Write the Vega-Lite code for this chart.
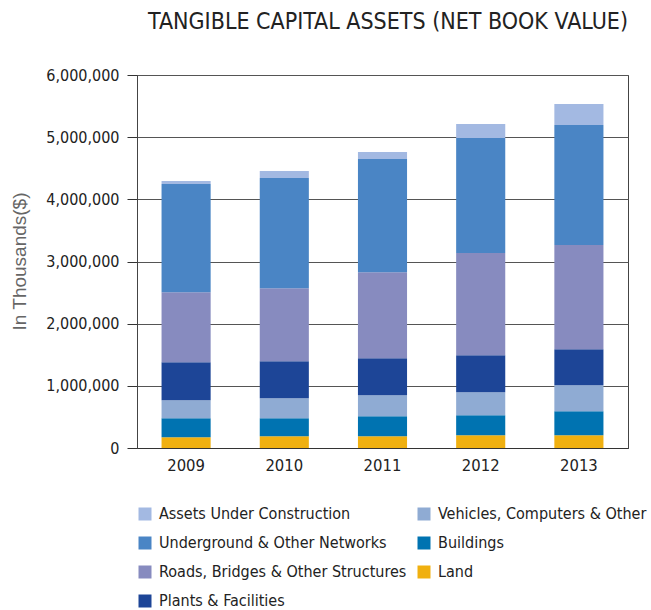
{
  "$schema": "https://vega.github.io/schema/vega-lite/v6.json",
  "autosize": {"type": "none"},
  "width": 491,
  "height": 373,
  "padding": {"left": 137, "top": 75, "right": 23, "bottom": 162},
  "background": "white",
  "config": {
    "font": "DejaVu Sans Condensed",
    "view": {"stroke": "#444", "strokeWidth": 1}
  },
  "title": {
    "text": "TANGIBLE CAPITAL ASSETS (NET BOOK VALUE)",
    "anchor": "end",
    "frame": "group",
    "fontSize": 23,
    "fontWeight": "normal",
    "font": "DejaVu Sans Condensed",
    "color": "#222",
    "offset": 33
  },
  "data": {
    "values": [
      {"year": "2009", "category": "Land", "value": 172000},
      {"year": "2009", "category": "Buildings", "value": 306000},
      {"year": "2009", "category": "Vehicles, Computers & Other", "value": 290000},
      {"year": "2009", "category": "Plants & Facilities", "value": 612000},
      {"year": "2009", "category": "Roads, Bridges & Other Structures", "value": 1127000},
      {"year": "2009", "category": "Underground & Other Networks", "value": 1739000},
      {"year": "2009", "category": "Assets Under Construction", "value": 48000},
      {"year": "2010", "category": "Land", "value": 188000},
      {"year": "2010", "category": "Buildings", "value": 290000},
      {"year": "2010", "category": "Vehicles, Computers & Other", "value": 322000},
      {"year": "2010", "category": "Plants & Facilities", "value": 596000},
      {"year": "2010", "category": "Roads, Bridges & Other Structures", "value": 1175000},
      {"year": "2010", "category": "Underground & Other Networks", "value": 1771000},
      {"year": "2010", "category": "Assets Under Construction", "value": 113000},
      {"year": "2011", "category": "Land", "value": 188000},
      {"year": "2011", "category": "Buildings", "value": 322000},
      {"year": "2011", "category": "Vehicles, Computers & Other", "value": 338000},
      {"year": "2011", "category": "Plants & Facilities", "value": 596000},
      {"year": "2011", "category": "Roads, Bridges & Other Structures", "value": 1385000},
      {"year": "2011", "category": "Underground & Other Networks", "value": 1819000},
      {"year": "2011", "category": "Assets Under Construction", "value": 113000},
      {"year": "2012", "category": "Land", "value": 204000},
      {"year": "2012", "category": "Buildings", "value": 322000},
      {"year": "2012", "category": "Vehicles, Computers & Other", "value": 370000},
      {"year": "2012", "category": "Plants & Facilities", "value": 596000},
      {"year": "2012", "category": "Roads, Bridges & Other Structures", "value": 1643000},
      {"year": "2012", "category": "Underground & Other Networks", "value": 1852000},
      {"year": "2012", "category": "Assets Under Construction", "value": 225000},
      {"year": "2013", "category": "Land", "value": 204000},
      {"year": "2013", "category": "Buildings", "value": 386000},
      {"year": "2013", "category": "Vehicles, Computers & Other", "value": 419000},
      {"year": "2013", "category": "Plants & Facilities", "value": 580000},
      {"year": "2013", "category": "Roads, Bridges & Other Structures", "value": 1675000},
      {"year": "2013", "category": "Underground & Other Networks", "value": 1932000},
      {"year": "2013", "category": "Assets Under Construction", "value": 338000}
    ]
  },
  "transform": [
    {"calculate": "indexof(['Land','Buildings','Vehicles, Computers & Other','Plants & Facilities','Roads, Bridges & Other Structures','Underground & Other Networks','Assets Under Construction'], datum.category)", "as": "stackRank"}
  ],
  "mark": {"type": "bar"},
  "encoding": {
    "x": {
      "field": "year",
      "type": "nominal",
      "scale": {"paddingInner": 0.5, "paddingOuter": 0.25},
      "axis": {
        "title": null,
        "labelAngle": 0,
        "ticks": false,
        "labelPadding": 9,
        "labelFontSize": 16.5,
        "labelColor": "#222",
        "domainColor": "#333",
        "domainWidth": 1
      }
    },
    "y": {
      "field": "value",
      "type": "quantitative",
      "stack": "zero",
      "scale": {"domain": [0, 6000000], "nice": false},
      "axis": {
        "title": "In Thousands($)",
        "titleFont": "Liberation Sans",
        "titleFontSize": 19,
        "titleFontWeight": "normal",
        "titleColor": "#666",
        "titleX": -127,
        "titleY": 186,
        "titleAngle": -90,
        "titleAlign": "center",
        "titleBaseline": "top",
        "values": [0, 1000000, 2000000, 3000000, 4000000, 5000000, 6000000],
        "format": ",.0f",
        "labelFontSize": 16,
        "labelColor": "#222",
        "labelPadding": 8,
        "tickSize": 10,
        "tickColor": "#333",
        "domainColor": "#444",
        "gridColor": "#555",
        "gridWidth": 1
      }
    },
    "color": {
      "field": "category",
      "type": "nominal",
      "scale": {
        "domain": ["Assets Under Construction", "Underground & Other Networks", "Roads, Bridges & Other Structures", "Plants & Facilities", "Vehicles, Computers & Other", "Buildings", "Land"],
        "range": ["#a3b9e2", "#4a85c5", "#878bbf", "#1d4597", "#8fabd3", "#0073b1", "#f0b010"]
      },
      "legend": {
        "title": null,
        "orient": "none",
        "legendX": 0,
        "legendY": 431,
        "columns": 2,
        "padding": 0,
        "symbolType": "square",
        "symbolSize": 169,
        "symbolStrokeWidth": 0,
        "symbolOpacity": 1,
        "labelFontSize": 16,
        "labelColor": "#222",
        "labelOffset": 6,
        "rowPadding": 13,
        "columnPadding": 9,
        "labelLimit": 400
      }
    },
    "order": {"field": "stackRank", "type": "quantitative", "sort": "ascending"}
  }
}
